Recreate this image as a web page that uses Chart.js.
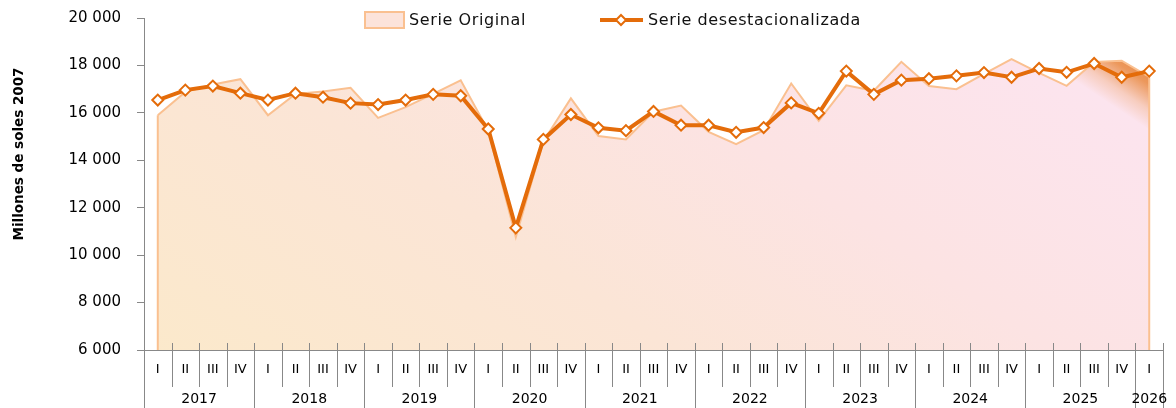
<!DOCTYPE html>
<html>
<head>
<meta charset="utf-8">
<script src="https://cdn.jsdelivr.net/npm/chart.js@4"></script>
<style>
  html, body { margin: 0; padding: 0; background: #fff; }
  #wrap { width: 1176px; height: 408px; position: relative; }
</style>
</head>
<body>
<div id="wrap"><canvas id="pbiChart"></canvas></div>
<script>
// quarters 2017-I .. 2026-I
const quarterLabels = [
  "I", "II", "III", "IV", "I", "II", "III", "IV", "I", "II", "III", "IV",
  "I", "II", "III", "IV", "I", "II", "III", "IV", "I", "II", "III", "IV",
  "I", "II", "III", "IV", "I", "II", "III", "IV", "I", "II", "III", "IV", "I"
];
const yearLabels = ["2017", "2018", "2019", "2020", "2021", "2022", "2023", "2024", "2025", "2026"];

const serieOriginal = [
  15900, 16880, 17200, 17420, 15900, 16800, 16900, 17060, 15790, 16240, 16800, 17370,
  15250, 10760, 14800, 16610, 15020, 14880, 16050, 16310, 15200, 14680, 15270, 17240,
  15660, 17160, 16930, 18150, 17130, 17000, 17640, 18270, 17690, 17140, 18150, 18200, 17520
];
const serieDesest = [
  16540, 16960, 17130, 16830, 16540, 16830, 16660, 16410, 16350, 16540, 16780, 16720,
  15320, 11150, 14880, 15930, 15370, 15250, 16060, 15480, 15480, 15180, 15380, 16420,
  15980, 17760, 16780, 17380, 17440, 17560, 17700, 17500, 17870, 17710, 18080, 17500, 17760
];
const yTicks = [6000, 8000, 10000, 12000, 14000, 16000, 18000, 20000];

const FONT = "'DejaVu Sans', sans-serif";
const ORANGE = "#E46C0A";
const LIGHT = "#FAC090";
const AXIS = "#888888";

function areaGradient(c, area) {
  // skewed diagonal: peach bottom-left, pink middle, dark orange top-right corner
  const dx = area.right - area.left;
  const dy = area.bottom - area.top;
  const k = (dx + 1.5 * dy) / 3.25;
  const g = c.createLinearGradient(area.left, area.bottom, area.left + k, area.bottom - 1.5 * k);
  g.addColorStop(0, "#FBE9CB");
  g.addColorStop(0.35, "#FBE5D6");
  g.addColorStop(0.6, "#FCE3E3");
  g.addColorStop(0.88, "#FCE4EE");
  g.addColorStop(0.9, "#F7CDBF");
  g.addColorStop(0.925, "#EC985C");
  g.addColorStop(0.96, "#E37B33");
  g.addColorStop(1, "#E07025");
  return g;
}

function fmt(v) {
  return String(v).replace(/\B(?=(\d{3})+(?!\d))/g, " ");
}

const customAxes = {
  id: "customAxes",
  afterDatasetDraw(chart, args) {
    // vertical edges of the original series area
    if (args.index !== 0) return;
    const { ctx, scales } = chart;
    const x = scales.x, y = scales.y;
    const n = serieOriginal.length;
    ctx.save();
    ctx.strokeStyle = LIGHT;
    ctx.lineWidth = 2;
    ctx.beginPath();
    ctx.moveTo(x.getPixelForValue(0), y.getPixelForValue(serieOriginal[0]));
    ctx.lineTo(x.getPixelForValue(0), y.bottom);
    ctx.moveTo(x.getPixelForValue(n - 1), y.getPixelForValue(serieOriginal[n - 1]));
    ctx.lineTo(x.getPixelForValue(n - 1), y.bottom);
    ctx.stroke();
    ctx.restore();
  },
  afterDraw(chart) {
    const { ctx, scales, chartArea } = chart;
    const xs = scales.x;
    const n = quarterLabels.length;
    const step = xs.getPixelForValue(1) - xs.getPixelForValue(0);
    const bottom = chartArea.bottom;
    ctx.save();

    // separators
    ctx.strokeStyle = AXIS;
    ctx.lineWidth = 1;
    ctx.beginPath();
    for (let i = 0; i <= n; i++) {
      const px = Math.round(xs.getPixelForValue(0) + (i - 0.5) * step) + 0.5;
      const tall = i % 4 === 0 || i === n;
      ctx.moveTo(px, bottom - 7);
      ctx.lineTo(px, tall ? chart.height : bottom + 37);
    }
    ctx.stroke();

    // quarter labels
    ctx.fillStyle = "#000";
    ctx.textAlign = "center";
    ctx.textBaseline = "middle";
    ctx.font = "13px " + FONT;
    quarterLabels.forEach((q, i) => {
      ctx.fillText(q, xs.getPixelForValue(i), bottom + 20);
    });

    // year labels
    ctx.font = "14px " + FONT;
    yearLabels.forEach((yr, j) => {
      const a = 4 * j, b = Math.min(4 * j + 3, n - 1);
      const cx = (xs.getPixelForValue(a) + xs.getPixelForValue(b)) / 2;
      ctx.fillText(yr, cx, bottom + 49);
    });

    // y axis title
    ctx.save();
    ctx.translate(19, 154);
    ctx.rotate(-Math.PI / 2);
    ctx.font = "bold 13.5px " + FONT;
    ctx.fillText("Millones de soles 2007", 0, 0);
    ctx.restore();

    // legend
    ctx.font = "16px " + FONT;
    ctx.letterSpacing = "0.6px";
    ctx.textAlign = "left";
    const ly = 20;
    ctx.fillStyle = "#FCE3DA";
    ctx.fillRect(365, ly - 8, 39, 16);
    ctx.strokeStyle = LIGHT;
    ctx.lineWidth = 2;
    ctx.strokeRect(365, ly - 8, 39, 16);
    ctx.fillStyle = "#111";
    ctx.fillText("Serie Original", 409, ly + 1);

    ctx.strokeStyle = ORANGE;
    ctx.lineWidth = 4;
    ctx.beginPath();
    ctx.moveTo(600, ly);
    ctx.lineTo(643, ly);
    ctx.stroke();
    ctx.fillStyle = "#fff";
    ctx.lineWidth = 2;
    ctx.beginPath();
    ctx.moveTo(621, ly - 5);
    ctx.lineTo(626, ly);
    ctx.lineTo(621, ly + 5);
    ctx.lineTo(616, ly);
    ctx.closePath();
    ctx.fill();
    ctx.stroke();
    ctx.fillStyle = "#111";
    ctx.fillText("Serie desestacionalizada", 648, ly + 1);

    ctx.restore();
  }
};

document.addEventListener("DOMContentLoaded", function () {
  const ctx = document.getElementById("pbiChart").getContext("2d");
  new Chart(ctx, {
    type: "line",
    data: {
      labels: quarterLabels,
      datasets: [
        {
          label: "Serie Original",
          data: serieOriginal,
          order: 1,
          borderColor: LIGHT,
          borderWidth: 2,
          fill: "start",
          backgroundColor: (c) => {
            const area = c.chart.chartArea;
            if (!area) return "#FCE3DA";
            return areaGradient(c.chart.ctx, area);
          },
          pointRadius: 0,
          tension: 0,
        },
        {
          label: "Serie desestacionalizada",
          data: serieDesest,
          order: 0,
          borderColor: ORANGE,
          borderWidth: 4,
          fill: false,
          pointStyle: "rectRot",
          pointRadius: 5.5,
          pointBackgroundColor: "#fff",
          pointBorderColor: ORANGE,
          pointBorderWidth: 2,
          tension: 0,
        },
      ],
    },
    options: {
      responsive: true,
      maintainAspectRatio: false,
      animation: false,
      layout: { padding: { top: 18, right: 13, bottom: 0, left: 0 } },
      plugins: {
        legend: { display: false },
        tooltip: { enabled: false },
      },
      scales: {
        x: {
          type: "category",
          offset: true,
          grid: { display: false },
          border: { display: true, color: AXIS, width: 1 },
          ticks: { display: false },
          afterFit: (s) => { s.height = 58; },
        },
        y: {
          min: yTicks[0],
          max: yTicks[yTicks.length - 1],
          afterBuildTicks: (s) => { s.ticks = yTicks.map((v) => ({ value: v })); },
          grid: { drawOnChartArea: false, drawTicks: true, tickLength: 7, color: AXIS },
          border: { display: true, color: AXIS, width: 1 },
          ticks: {
            padding: 16,
            color: "#000",
            font: { family: FONT, size: 15 },
            callback: (v) => fmt(v),
          },
          afterFit: (s) => {
            s.width = 144;
            s.paddingTop = 0;
            s.paddingBottom = 0;
          },
        },
      },
    },
    plugins: [customAxes],
  });
});
</script>
</body>
</html>
